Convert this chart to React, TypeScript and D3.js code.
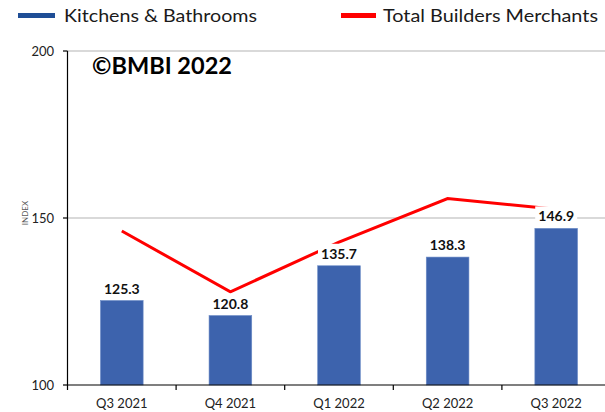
import React from "react";
import * as d3 from "d3";

const categories = ["Q3 2021", "Q4 2021", "Q1 2022", "Q2 2022", "Q3 2022"];
const kitchensBathrooms = [125.3, 120.8, 135.7, 138.3, 146.9];
const totalBuildersMerchants = [146.1, 127.9, 142.8, 155.8, 152.6];
const yTicks = [100, 150, 200];
const seriesNames = ["Kitchens & Bathrooms", "Total Builders Merchants"];

const W = 605;
const H = 412;
const FONT = "Lato, 'Open Sans', sans-serif";

export default function App() {
  const left = 67.5;
  const step = 108.6;
  const x = d3
    .scaleBand<string>()
    .domain(categories)
    .range([left, left + step * categories.length])
    .padding(0);
  const y = d3.scaleLinear().domain([100, 200]).range([385, 51]);
  const barW = x.bandwidth() * 0.393;
  const cx = (c: string) => (x(c) as number) + x.bandwidth() / 2;

  const line = d3
    .line<number>()
    .x((_, i) => cx(categories[i]))
    .y((d) => y(d));

  const blue = "#3d63ad";
  const red = "#ff0000";

  return (
    <svg
      width={W}
      height={H}
      style={{ position: "absolute", left: 0, top: 0, background: "#fff" }}
      fontFamily={FONT}
    >
      {/* legend */}
      <rect x={18} y={13} width={37} height={5} fill="#1f4e96" />
      <text x={64} y={22} fontSize={18} fill="#1a1a1a" textLength={193} lengthAdjust="spacingAndGlyphs">
        {seriesNames[0]}
      </text>
      <rect x={341} y={13} width={35} height={5} fill={red} />
      <text x={383} y={22} fontSize={18} fill="#1a1a1a" textLength={215} lengthAdjust="spacingAndGlyphs">
        {seriesNames[1]}
      </text>

      {/* gridlines */}
      {yTicks
        .filter((t) => t !== 100)
        .map((t) => (
          <line key={t} x1={left} x2={W} y1={y(t)} y2={y(t)} stroke="#b3b3b3" strokeWidth={1} />
        ))}

      {/* y axis */}
      <line x1={left} x2={left} y1={y(200)} y2={y(100)} stroke="#000" strokeWidth={1.2} />
      {yTicks.map((t) => (
        <g key={t}>
          <line x1={left - 4.5} x2={left} y1={y(t)} y2={y(t)} stroke="#000" strokeWidth={1.2} />
          <text x={54} y={y(t)} dy="0.35em" textAnchor="end" fontSize={13} fill="#222">
            {t}
          </text>
        </g>
      ))}
      <text
        transform={`translate(28,${y(150) - 5}) rotate(-90)`}
        textAnchor="middle"
        fontSize={8}
        fill="#595959"
      >
        INDEX
      </text>

      {/* bars */}
      {categories.map((c, i) => (
        <rect
          key={c}
          x={cx(c) - barW / 2}
          y={y(kitchensBathrooms[i])}
          width={barW}
          height={y(100) - y(kitchensBathrooms[i])}
          fill={blue}
          stroke="#6d8cc7"
          strokeWidth={0.6}
        />
      ))}

      {/* x axis */}
      <line x1={left} x2={W} y1={y(100)} y2={y(100)} stroke="#000" strokeWidth={1.2} />
      {categories.map((c) => (
        <line
          key={c}
          x1={x(c) as number}
          x2={x(c) as number}
          y1={y(100)}
          y2={y(100) + 5}
          stroke="#000"
          strokeWidth={1.2}
        />
      ))}
      {categories.map((c) => (
        <text key={c} x={cx(c)} y={408} textAnchor="middle" fontSize={13} fill="#222">
          {c}
        </text>
      ))}

      {/* line series */}
      <path
        d={line(totalBuildersMerchants) || ""}
        fill="none"
        stroke={red}
        strokeWidth={3}
        strokeLinejoin="miter"
      />

      {/* data labels */}
      {categories.map((c, i) => {
        const ty = y(kitchensBathrooms[i]) - 12;
        return (
          <g key={c}>
            <rect x={cx(c) - 21} y={ty - 10} width={42} height={19} fill="#fff" />
            <text
              x={cx(c)}
              y={ty}
              dy="0.36em"
              textAnchor="middle"
              fontSize={14}
              fontWeight="bold"
              fill="#111"
            >
              {kitchensBathrooms[i].toFixed(1)}
            </text>
          </g>
        );
      })}

      {/* watermark */}
      <text
        x={92}
        y={73.5}
        fontSize={23}
        fontWeight="bold"
        fill="#000"
        textLength={140}
        lengthAdjust="spacingAndGlyphs"
      >
        ©BMBI 2022
      </text>
    </svg>
  );
}
